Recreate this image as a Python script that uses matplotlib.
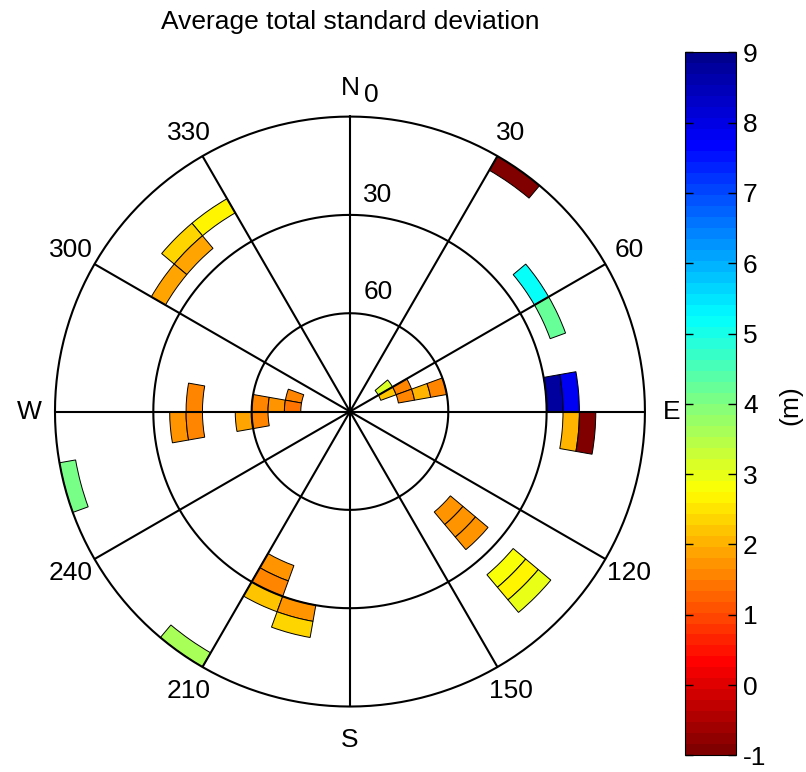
import numpy as np
import matplotlib.pyplot as plt
import matplotlib.colors as mcolors
import matplotlib.cm as cm

plt.rcParams['font.family'] = ['Liberation Sans', 'DejaVu Sans']
plt.rcParams['axes.unicode_minus'] = False

# sky cells: lower azimuth edge (deg), lower elevation edge (deg), avg std (m)
az_lo = [80, 80, 90, 90,
         50, 60, 60, 70, 70, 70,
         260, 270, 260, 270, 280, 270,
         260, 270, 260,
         130, 130, 130, 130, 130, 130,
         200, 200, 200, 190, 190,
         30, 50, 60,
         320, 310, 310, 300,
         250, 210]
el_lo = [25, 20, 20, 15,
         75, 75, 70, 70, 65, 60,
         55, 60, 60, 65, 70, 70,
         35, 40, 40,
         45, 40, 35, 20, 15, 10,
         35, 30, 25, 25, 20,
         0, 20, 20,
         15, 15, 20, 20,
         0, 0]
std_val = [8.8, 7.9, 2.0, -0.9,
           3.2, 2.2, 1.6, 1.5, 2.1, 1.6,
           1.9, 1.6, 1.5, 1.8, 1.6, 1.4,
           1.7, 1.6, 1.6,
           1.7, 1.7, 1.7, 2.9, 2.6, 3.0,
           1.7, 1.6, 2.2, 1.8, 2.4,
           -0.9, 5.2, 4.3,
           2.6, 2.4, 1.9, 1.9,
           4.0, 3.6]

az_step = 10
el_step = 5
cbar_ticks = list(range(-1, 10))
fs = 19

# matlab style jet (64 levels), reversed so big std = dark blue
cdict = {'red': [(0, 0, 0), (3/8, 0, 0), (5/8, 1, 1), (7/8, 1, 1), (1, 0.5, 0.5)],
         'green': [(0, 0, 0), (1/8, 0, 0), (3/8, 1, 1), (5/8, 1, 1), (7/8, 0, 0), (1, 0, 0)],
         'blue': [(0, 0.5625, 0.5625), (1/8, 1, 1), (3/8, 1, 1), (5/8, 0, 0), (1, 0, 0)]}
cmap = mcolors.LinearSegmentedColormap('mjet', cdict, N=64).reversed()
norm = mcolors.Normalize(vmin=-1, vmax=9)

fig = plt.figure(figsize=(8.06, 7.72), dpi=100)
ax = fig.add_axes([0.0682, 0.0848, 0.732, 0.7642], projection='polar')
ax.set_theta_zero_location('N')
ax.set_theta_direction(-1)

theta = np.deg2rad(np.array(az_lo) + az_step / 2)
rbot = 90 - (np.array(el_lo) + el_step)
ax.bar(theta, el_step, width=np.deg2rad(az_step), bottom=rbot,
       color=cmap(norm(np.array(std_val))), edgecolor='black',
       linewidth=0.7, zorder=2)

# grid, drawn on top of the cells like the matlab skyplot
tt = np.linspace(0, 2 * np.pi, 361)
for r in [30, 60, 90]:
    ax.plot(tt, np.full_like(tt, r), color='black', lw=1.5, zorder=3, clip_on=False)
for a in range(0, 360, 30):
    ax.plot([np.deg2rad(a)] * 2, [0, 90], color='black', lw=1.5, zorder=3)

ax.grid(False)
ax.set_xticks([])
ax.set_yticks([])
ax.spines['polar'].set_visible(False)
ax.set_ylim(0, 90)

for a in [30, 60, 120, 150, 210, 240, 300, 330]:
    ax.text(np.deg2rad(a), 98.3, str(a), ha='center', va='center', fontsize=fs)
ax.text(np.deg2rad(3.8), 96.8, '0', ha='center', va='center', fontsize=fs)
ax.text(0, 98.7, 'N', ha='center', va='center', fontsize=fs)
ax.text(np.deg2rad(90), 98.2, 'E', ha='center', va='center', fontsize=fs)
ax.text(np.deg2rad(180), 100.2, 'S', ha='center', va='center', fontsize=fs)
ax.text(np.deg2rad(270), 97.8, 'W', ha='center', va='center', fontsize=fs)
ax.text(np.deg2rad(7.4), 66.6, '30', ha='center', va='center', fontsize=fs)
ax.text(np.deg2rad(13.2), 37.4, '60', ha='center', va='center', fontsize=fs)

fig.text(350 / 806, 1 - 22 / 772, 'Average total standard deviation',
         ha='center', va='center', fontsize=fs)

cax = fig.add_axes([0.8499, 0.0216, 0.0633, 0.9106])
sm = cm.ScalarMappable(norm=norm, cmap=cmap)
cb = fig.colorbar(sm, cax=cax)
cb.set_ticks(cbar_ticks)
cax.tick_params(direction='in', left=True, right=True, length=6,
                width=1, labelsize=fs, pad=5)
cb.outline.set_linewidth(0.8)
fig.text(790 / 806, 1 - 405 / 772, '(m)', rotation=90,
         ha='center', va='center', fontsize=fs)

fig.savefig('out.png', dpi=100)
